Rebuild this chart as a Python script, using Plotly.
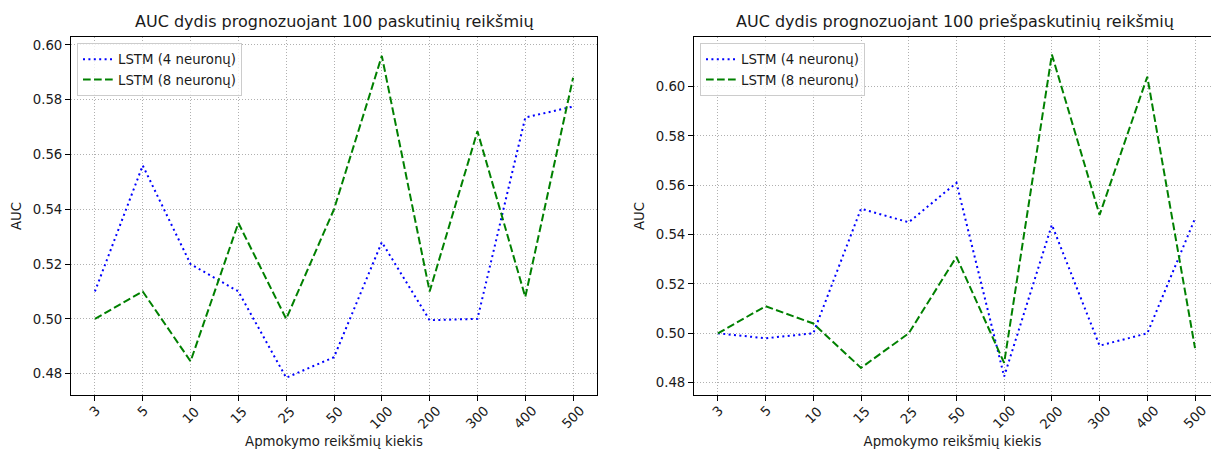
import plotly.graph_objects as go

# Training-set sizes (categorical x axis)
train_sizes = ["3", "5", "10", "15", "25", "50", "100", "200", "300", "400", "500"]

# AUC when forecasting the last 100 values
auc_last_lstm4 = [0.510, 0.556, 0.520, 0.510, 0.4785, 0.486, 0.528, 0.4995, 0.500, 0.5735, 0.5775]
auc_last_lstm8 = [0.500, 0.510, 0.4845, 0.535, 0.500, 0.540, 0.596, 0.510, 0.5685, 0.508, 0.588]

# AUC when forecasting the 100 values before the last ones
auc_prev_lstm4 = [0.500, 0.498, 0.500, 0.5505, 0.545, 0.561, 0.4825, 0.544, 0.495, 0.500, 0.5465]
auc_prev_lstm8 = [0.500, 0.511, 0.504, 0.486, 0.500, 0.531, 0.488, 0.613, 0.548, 0.604, 0.494]

y_ticks = [0.48, 0.50, 0.52, 0.54, 0.56, 0.58, 0.60]

titles = ["AUC dydis prognozuojant 100 paskutinių reikšmių",
          "AUC dydis prognozuojant 100 priešpaskutinių reikšmių"]
x_title = "Apmokymo reikšmių kiekis"
y_title = "AUC"
name4 = "LSTM (4 neuronų)"
name8 = "LSTM (8 neuronų)"

FONT = "DejaVu Sans"
TXT = "#1a1a1a"
W, H = 1211, 450
ML, MR, MT, MB = 71, 0, 37, 55
PW = W - ML - MR

dot_style = dict(color="blue", width=2, dash="2px,3.4px")
dash_style = dict(color="green", width=2, dash="7.7px,3.3px")

fig = go.Figure()
fig.add_trace(go.Scatter(x=train_sizes, y=auc_last_lstm4, mode="lines", name=name4,
                         line=dot_style, xaxis="x", yaxis="y", legend="legend"))
fig.add_trace(go.Scatter(x=train_sizes, y=auc_last_lstm8, mode="lines", name=name8,
                         line=dash_style, xaxis="x", yaxis="y", legend="legend"))
fig.add_trace(go.Scatter(x=train_sizes, y=auc_prev_lstm4, mode="lines", name=name4,
                         line=dot_style, xaxis="x2", yaxis="y2", legend="legend2"))
fig.add_trace(go.Scatter(x=train_sizes, y=auc_prev_lstm8, mode="lines", name=name8,
                         line=dash_style, xaxis="x2", yaxis="y2", legend="legend2"))


def px_x(p):
    return (p - ML) / PW


def px_y(p):
    return (H - MB - p) / (H - MT - MB)


grid = dict(showgrid=True, gridcolor="#b0b0b0", gridwidth=1, griddash="1px,2px")
tick_common = dict(ticks="outside", ticklen=5, tickwidth=1, tickcolor="black",
                   tickfont=dict(family=FONT, size=13.3, color=TXT))

xcommon = dict(type="category", categoryorder="array", categoryarray=train_sizes,
               showline=True, linecolor="black", linewidth=1, showticklabels=False,
               zeroline=False, mirror=True,
               title=dict(text=x_title, font=dict(family=FONT, size=13.3, color=TXT), standoff=36),
               **grid, **tick_common)

fig.update_layout(
    width=W, height=H,
    margin=dict(l=ML, r=MR, t=MT, b=MB, autoexpand=False),
    paper_bgcolor="white", plot_bgcolor="white",
    font=dict(family=FONT, size=13.3, color=TXT),
)

fig.layout.xaxis = dict(domain=[0, px_x(597)], range=[-0.5, 10.5], anchor="y", **xcommon)
fig.layout.xaxis2 = dict(domain=[px_x(694), 1.0], range=[-0.5, 10.335], anchor="y2", **xcommon)

ycommon = dict(tickvals=y_ticks, tickformat=".2f", showline=True, linecolor="black",
               linewidth=1, zeroline=False,
               title=dict(text=y_title, font=dict(family=FONT, size=13.3, color=TXT), standoff=8),
               **grid, **tick_common)
fig.layout.yaxis = dict(domain=[0, 1], range=[0.4722, 0.6029], anchor="x", mirror=True, **ycommon)
fig.layout.yaxis2 = dict(domain=[0, 1], range=[0.4750, 0.6201], anchor="x2", **ycommon)

legend_common = dict(bgcolor="rgba(255,255,255,0.8)", bordercolor="#cccccc", borderwidth=1,
                     font=dict(family=FONT, size=13.3, color=TXT),
                     xanchor="left", yanchor="top", itemwidth=30, tracegroupgap=0)
fig.layout.legend = dict(x=px_x(77), y=px_y(43), **legend_common)
fig.layout.legend2 = dict(x=px_x(700), y=px_y(43), **legend_common)

annotations = []
# subplot titles
for title, cx in zip(titles, [334, 955]):
    annotations.append(dict(text=title, x=px_x(cx), y=px_y(33), xref="paper", yref="paper",
                            xanchor="center", yanchor="bottom", showarrow=False,
                            font=dict(family=FONT, size=16, color=TXT)))
# rotated category labels centred under each tick (positioned by category index)
for xref in ["x", "x2"]:
    for idx, cat in enumerate(train_sizes):
        annotations.append(dict(text=cat, x=idx, y=0, xref=xref, yref="paper",
                                xanchor="center", yanchor="top", yshift=-6,
                                textangle=-45, showarrow=False,
                                font=dict(family=FONT, size=13.3, color=TXT)))
fig.update_layout(annotations=annotations)

fig.write_html("out.html")
